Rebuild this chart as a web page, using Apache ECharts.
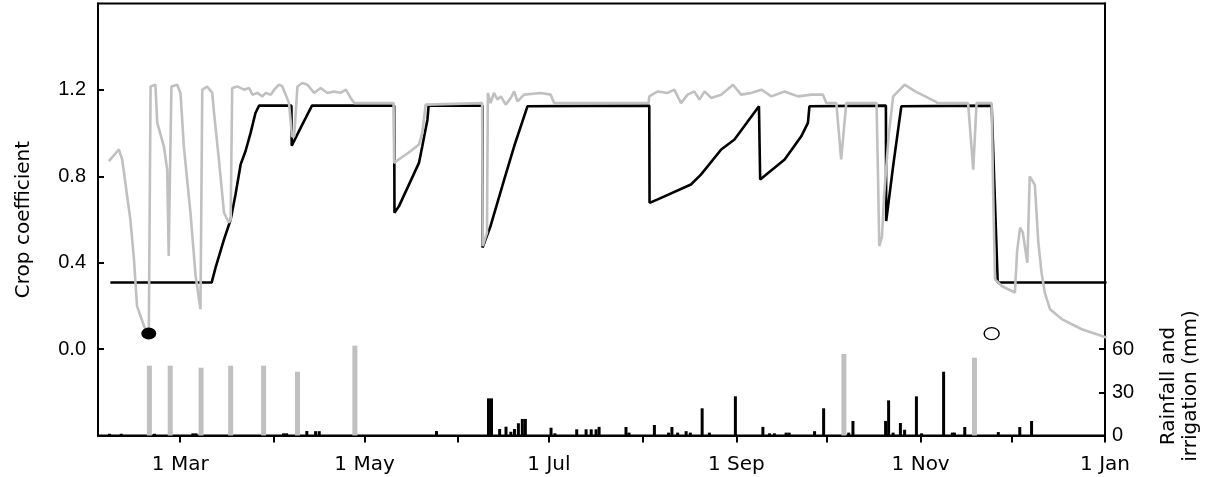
<!DOCTYPE html>
<html><head><meta charset="utf-8">
<script src="https://cdn.jsdelivr.net/npm/echarts@6/dist/echarts.min.js"></script>
<style>html,body{margin:0;padding:0;background:#fff}#c{width:1207px;height:477px}</style>
</head><body><div id="c"></div>
<script>
// x values: day of year (1 Jan = 0)
const monthTickDays = [59, 90, 120, 151, 181, 212, 243, 273, 304, 334, 365];
const xLabelDays = [59, 120, 181, 243, 304, 365];
const xLabelNames = ['1 Mar', '1 May', '1 Jul', '1 Sep', '1 Nov', '1 Jan'];
const kcTicks = [0, 0.4, 0.8, 1.2];
const rainTicks = [0, 30, 60];

// basal crop coefficient (black line) [day, Kc]
const kcBasal = [
  [35.9,0.308],[69.4,0.308],[70.7,0.377],[73.5,0.508],[75.7,0.600],[77.3,0.716],[79.0,0.855],[80.6,0.916],[82.3,1.001],[83.9,1.093],[85.1,1.127],
  [95.8,1.127],[95.9,0.942],[98.8,1.023],[102.6,1.127],
  [129.8,1.127],[129.9,0.631],[131.4,0.662],[138.0,0.862],[139.1,0.939],[140.8,1.062],[141.2,1.127],
  [159.0,1.127],[159.05,0.47],[161.7,0.57],[166.2,0.785],[169.5,0.939],[173.9,1.124],
  [214.2,1.127],[214.3,0.677],[217.0,0.693],[228.0,0.762],[231.3,0.808],[238.0,0.924],[242.4,0.970],[250.5,1.124],
  [250.9,0.785],[259.0,0.878],[264.5,0.985],[266.7,1.047],[267.2,1.124],
  [292.5,1.127],[292.6,0.593],[294.9,0.847],[297.6,1.124],
  [327.5,1.127],[329.5,0.308],[365.5,0.308]
];

// actual crop coefficient (grey line) [day, Kc]
const kcActual = [
  [35.4,0.870],[38.7,0.924],[39.8,0.878],[42.5,0.600],[43.7,0.416],[44.7,0.200],[47.0,0.108],[48.6,0.061],[49.0,0.065],
  [49.2,1.216],[50.8,1.224],[51.4,1.047],[53.6,0.939],[54.7,0.831],[55.2,0.431],[55.6,0.800],[56.1,1.216],
  [58.0,1.224],[59.1,1.186],[60.2,0.939],[62.4,0.631],[64.1,0.339],[65.7,0.185],[66.1,0.190],
  [66.3,1.200],[67.9,1.216],[69.6,1.186],[70.2,1.093],[71.8,0.878],[73.5,0.631],[75.1,0.585],[75.7,0.600],
  [76.2,1.209],[77.9,1.216],[80.1,1.201],[81.8,1.209],[82.9,1.178],[84.5,1.186],[86.2,1.170],[87.3,1.186],[89.0,1.178],[90.1,1.201],[91.7,1.224],[92.8,1.216],[93.9,1.178],[95.0,1.139],
  [96.0,0.985],[96.7,0.985],[97.8,1.216],[99.4,1.232],[101.1,1.224],[103.3,1.186],[105.5,1.209],[107.7,1.186],[109.9,1.193],[112.1,1.186],[113.8,1.201],[115.4,1.163],[116.6,1.139],
  [129.6,1.139],[129.8,0.862],[131.3,0.878],[135.2,0.916],[138.0,0.947],[139.1,1.001],[140.2,1.132],[140.8,1.139],
  [158.9,1.139],[159.1,0.477],[160.5,0.539],[160.8,1.186],[161.7,1.139],[162.8,1.186],[164.0,1.155],[165.1,1.170],[166.7,1.132],[168.4,1.163],[169.5,1.193],[170.6,1.147],[172.8,1.178],[178.3,1.186],[181.6,1.178],[182.7,1.139],
  [214.0,1.139],[214.2,1.170],[217.0,1.193],[220.3,1.186],[222.5,1.201],[224.7,1.139],[226.9,1.178],[229.1,1.193],[230.8,1.155],[232.5,1.193],[234.7,1.163],[238.0,1.178],[241.9,1.224],[244.6,1.178],[247.9,1.186],[251.3,1.201],[254.6,1.170],[259.0,1.193],[263.4,1.170],[267.8,1.178],[271.7,1.178],[272.8,1.139],
  [276.1,1.139],[277.7,0.878],[279.4,1.139],[289.4,1.139],[289.9,0.800],[290.3,0.477],[291.2,0.520],[291.9,0.708],[293.5,1.000],[294.9,1.170],[298.7,1.224],[302.2,1.193],[308.8,1.147],[309.5,1.139],
  [319.7,1.139],[321.4,0.831],[322.5,1.139],[327.5,1.139],[328.0,0.724],[328.6,0.323],[330.8,0.292],[335.2,0.262],[335.9,0.450],[336.9,0.562],[337.8,0.540],[339.3,0.400],[340.1,0.800],[341.8,0.760],[342.9,0.500],[344.0,0.354],[345.1,0.260],[346.8,0.185],[350.7,0.139],[357.3,0.092],[365.5,0.054]
];

// rainfall (black bars) [day, mm]
const rainfall = [
  [35.6,1.2],[39.5,1.2],[50.5,1.2],[63.2,1.5],[64.2,1.5],[93.2,1.5],[94.2,1.5],[100.9,3.1],[103.8,3],[105,3],[143.8,3.1],
  [161,25.8],[162,25.8],[164.7,4.5],[166.8,6.1],[168.4,2.6],[169.6,4.5],[170.9,8.5],[172.2,11.5],[173.2,11.5],
  [181.7,5.4],[183,1.5],[190.2,4.3],[193.3,4.3],[195,4.3],[196.6,4.3],[197.6,6],[206.5,5.9],[207.5,2],[215.9,7.3],
  [220.6,2],[221.7,5.9],[223.6,2],[226.4,3],[227.8,2],[231.7,18.9],[234.1,2],[242.7,27.2],[251.8,6],[254,1.5],[255.6,1.5],
  [259.5,2],[260.5,2],[268.9,3],[271.9,18.9],[280.2,2],[281.6,10.1],[292.4,10.1],[293.4,24.4],[294.9,2],[297.3,8.7],[298.7,4],
  [302.6,27.2],[304.3,1.5],[311.6,44.3],[314.5,2],[315.2,2],[318.6,5.9],[329.7,2.4],[336.8,5.9],[340.7,10.1]
];

// irrigation (grey bars) [day, mm]
const irrigation = [
  [48.8,48.5],[55.7,48.5],[65.9,47.1],[75.7,48.5],[86.6,48.5],[97.8,44.3],[116.8,62.4],[278.6,56.6],[321.8,54.0]
];

// symbols: start (filled) and end (open) markers [day, Kc]
const startMarker = [[48.6,0.072]];
const endMarker = [[327.5,0.072]];

const FONT = 'DejaVu Sans';
const NUMFONT = 'Liberation Sans';
const chart = echarts.init(document.getElementById('c'), null, {renderer:'canvas'});
const xBase = {
  type:'value', min:31.8, max:365,
  splitLine:{show:false}
};
chart.setOption({
  animation:false,
  backgroundColor:'#fff',
  grid:{left:98, right:102, top:3.5, bottom:41.5, show:true, borderColor:'#000', borderWidth:2, backgroundColor:'transparent'},
  xAxis:[
    Object.assign({}, xBase, {
      axisLine:{show:true, onZero:false, lineStyle:{color:'#000', width:2}},
      axisTick:{show:true, inside:false, length:7, lineStyle:{color:'#000', width:2}, customValues:monthTickDays},
      axisLabel:{show:true, margin:19, color:'#000', fontFamily:FONT, fontSize:20,
        customValues:xLabelDays,
        formatter:function(v){ const i = xLabelDays.indexOf(Math.round(v)); return i>=0 ? xLabelNames[i] : ''; }}
    }),
    Object.assign({}, xBase, {show:false})
  ],
  yAxis:[
    {type:'value', min:-0.4, max:1.6, position:'left',
      name:'Crop coefficient', nameLocation:'middle', nameGap:64, nameRotate:90,
      nameTextStyle:{color:'#000', fontFamily:FONT, fontSize:20},
      splitLine:{show:false},
      axisLine:{show:true, onZero:false, lineStyle:{color:'#000', width:2}},
      axisTick:{show:true, inside:true, length:6, lineStyle:{color:'#000', width:2}, customValues:kcTicks},
      axisLabel:{show:true, margin:12, color:'#000', fontFamily:NUMFONT, fontSize:20, customValues:kcTicks,
        formatter:function(v){ return (v < -0.01 || v > 1.21) ? '' : v.toFixed(1); }}
    },
    {type:'value', min:0, max:300, position:'right',
      splitLine:{show:false},
      axisLine:{show:true, onZero:false, lineStyle:{color:'#000', width:2}},
      axisTick:{show:true, inside:true, length:6, lineStyle:{color:'#000', width:2}, customValues:rainTicks},
      axisLabel:{show:true, margin:7, color:'#000', fontFamily:NUMFONT, fontSize:20, customValues:rainTicks,
        formatter:function(v){ return v > 61 ? '' : String(v); }}
    }
  ],
  graphic:[{
    type:'text', x:1180, y:386, rotation:Math.PI/2,
    style:{text:'Rainfall and\nirrigation (mm)', fill:'#000', font:'20px "DejaVu Sans"', align:'center', verticalAlign:'middle', lineHeight:22}
  }],
  series:[
    {type:'bar', name:'Irrigation', xAxisIndex:1, yAxisIndex:1, data:irrigation, barWidth:5,
      itemStyle:{color:'#c0c0c0'}, z:2},
    {type:'bar', name:'Rainfall', xAxisIndex:0, yAxisIndex:1, data:rainfall, barWidth:3,
      itemStyle:{color:'#000'}, z:2},
    {type:'line', name:'Basal Kc', xAxisIndex:0, yAxisIndex:0, data:kcBasal, showSymbol:false, symbol:'none',
      lineStyle:{color:'#000', width:2.6}, z:3},
    {type:'line', name:'Actual Kc', xAxisIndex:0, yAxisIndex:0, data:kcActual, showSymbol:false, symbol:'none',
      lineStyle:{color:'#c0c0c0', width:2.6}, z:4},
    {type:'scatter', xAxisIndex:0, yAxisIndex:0, data:startMarker, symbol:'circle', symbolSize:[15,12],
      itemStyle:{color:'#000', opacity:1}, z:6},
    {type:'scatter', xAxisIndex:0, yAxisIndex:0, data:endMarker, symbol:'circle', symbolSize:[15,12],
      itemStyle:{color:'#fff', borderColor:'#000', borderWidth:1.3, opacity:1}, z:6}
  ]
});
</script></body></html>
